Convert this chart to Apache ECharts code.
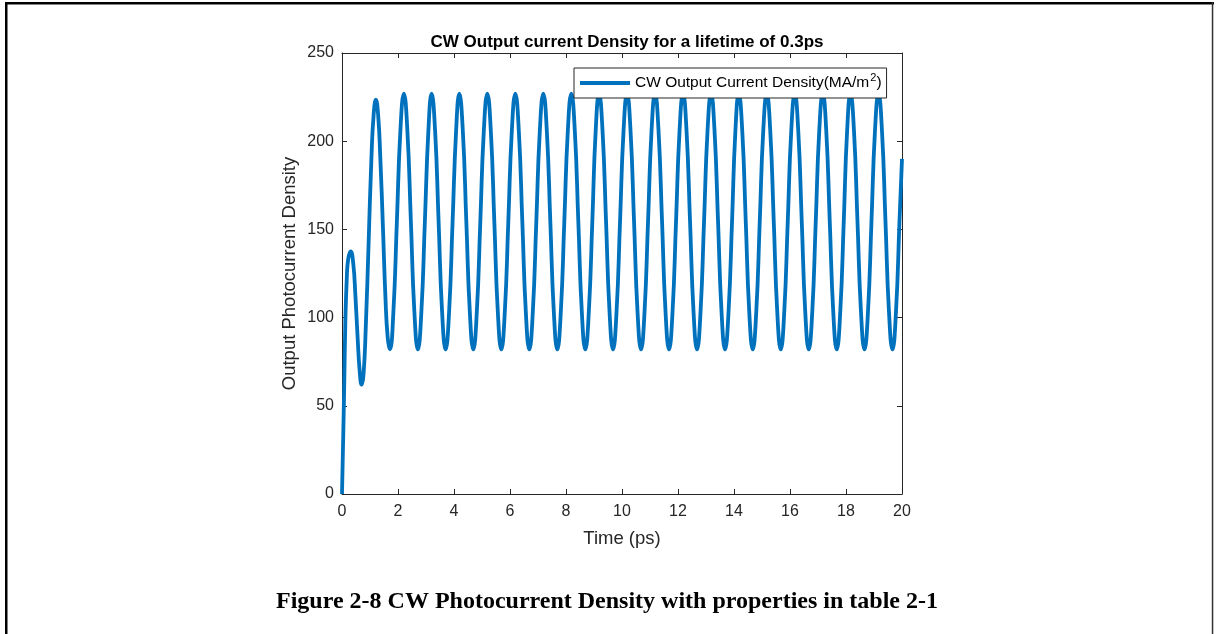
<!DOCTYPE html>
<html>
<head>
<meta charset="utf-8">
<title>CW Output current Density</title>
<script src="https://cdn.jsdelivr.net/npm/echarts@6/dist/echarts.min.js"></script>
<style>
  html, body { margin: 0; padding: 0; background: #ffffff; }
  #chart { width: 1219px; height: 634px; }
</style>
</head>
<body>
<div id="chart"></div>
<script>
// Time samples (ps): start-up transient, then one row per oscillation (peak to next peak)
const timePs = [
  0, 0.04, 0.08, 0.12, 0.17, 0.22, 0.31, 0.40, 0.48, 0.56, 0.63, 0.70, 0.77, 0.85, 0.95,
  1.05, 1.13, 1.21, 1.29, 1.37, 1.46, 1.55, 1.63, 1.71, 1.835, 1.96, 2.085,
  2.21, 2.335, 2.46, 2.585, 2.71, 2.835, 2.96, 3.085,
  3.20, 3.325, 3.45, 3.575, 3.70, 3.825, 3.95, 4.075,
  4.19, 4.315, 4.44, 4.565, 4.69, 4.815, 4.94, 5.065,
  5.19, 5.315, 5.44, 5.565, 5.69, 5.815, 5.94, 6.065,
  6.19, 6.315, 6.44, 6.565, 6.69, 6.815, 6.94, 7.065,
  7.19, 7.315, 7.44, 7.565, 7.69, 7.815, 7.94, 8.065,
  8.19, 8.315, 8.44, 8.565, 8.69, 8.815, 8.94, 9.06,
  9.18, 9.305, 9.43, 9.555, 9.68, 9.805, 9.93, 10.055,
  10.18, 10.305, 10.43, 10.555, 10.68, 10.805, 10.93, 11.055,
  11.18, 11.305, 11.43, 11.555, 11.68, 11.805, 11.93, 12.055,
  12.18, 12.305, 12.43, 12.555, 12.68, 12.805, 12.93, 13.055,
  13.18, 13.305, 13.43, 13.555, 13.68, 13.805, 13.93, 14.05,
  14.17, 14.295, 14.42, 14.545, 14.67, 14.795, 14.92, 15.045,
  15.17, 15.295, 15.42, 15.545, 15.67, 15.795, 15.92, 16.045,
  16.17, 16.295, 16.42, 16.545, 16.67, 16.795, 16.92, 17.045,
  17.17, 17.295, 17.42, 17.545, 17.67, 17.795, 17.92, 18.04,
  18.16, 18.285, 18.41, 18.535, 18.66, 18.785, 18.91, 19.035,
  19.16, 19.285, 19.41, 19.535, 19.66, 19.785, 19.91,
  20
];

// Output photocurrent density (MA/m^2) at each time sample
const density = [
  0, 30, 62, 98, 122, 133, 137.5, 131, 112, 88, 70, 62, 68, 95, 142,
  190, 215, 223.5, 215, 190, 152, 112, 89, 82, 103.2, 154.5, 205.8,
  227, 205.8, 154.5, 103.2, 82, 103.2, 154.5, 205.8,
  227, 205.8, 154.5, 103.2, 82, 103.2, 154.5, 205.8,
  227, 205.8, 154.5, 103.2, 82, 103.2, 154.5, 205.8,
  227, 205.8, 154.5, 103.2, 82, 103.2, 154.5, 205.8,
  227, 205.8, 154.5, 103.2, 82, 103.2, 154.5, 205.8,
  227, 205.8, 154.5, 103.2, 82, 103.2, 154.5, 205.8,
  227, 205.8, 154.5, 103.2, 82, 103.2, 154.5, 205.8,
  227, 205.8, 154.5, 103.2, 82, 103.2, 154.5, 205.8,
  227, 205.8, 154.5, 103.2, 82, 103.2, 154.5, 205.8,
  227, 205.8, 154.5, 103.2, 82, 103.2, 154.5, 205.8,
  227, 205.8, 154.5, 103.2, 82, 103.2, 154.5, 205.8,
  227, 205.8, 154.5, 103.2, 82, 103.2, 154.5, 205.8,
  227, 205.8, 154.5, 103.2, 82, 103.2, 154.5, 205.8,
  227, 205.8, 154.5, 103.2, 82, 103.2, 154.5, 205.8,
  227, 205.8, 154.5, 103.2, 82, 103.2, 154.5, 205.8,
  227, 205.8, 154.5, 103.2, 82, 103.2, 154.5, 205.8,
  227, 205.8, 154.5, 103.2, 82, 103.2, 154.5, 205.8,
  227, 205.8, 154.5, 103.2, 82, 103.2, 154.5,
  190
];

const xTicks = [0, 2, 4, 6, 8, 10, 12, 14, 16, 18, 20];
const yTicks = [0, 50, 100, 150, 200, 250];

const titleText = 'CW Output current Density for a lifetime of 0.3ps';
const xName = 'Time (ps)';
const yName = 'Output Photocurrent Density';
const seriesName = 'CW Output Current Density(MA/m2)';
const captionText = 'Figure 2-8 CW Photocurrent Density with properties in table 2-1';

const axisColor = '#262626';
const lineColor = '#0072BD';
const sans = '"Liberation Sans", Arial, Helvetica, sans-serif';

const points = timePs.map((t, i) => [t, density[i]]);

const chart = echarts.init(document.getElementById('chart'), null, { renderer: 'canvas' });

// Shared style for the four sides of the axes box (ticks point inward)
function boxAxis(extra) {
  return Object.assign({
    type: 'value',
    axisLine: { show: true, onZero: false, lineStyle: { color: axisColor, width: 1 } },
    axisTick: { show: true, inside: true, length: 5, lineStyle: { color: axisColor, width: 1 } },
    splitLine: { show: false }
  }, extra);
}

chart.setOption({
  animation: false,
  backgroundColor: '#ffffff',
  title: {
    text: titleText,
    left: 622,
    textAlign: 'center',
    top: 29,
    textStyle: { fontFamily: sans, fontSize: 17, fontWeight: 'bold', color: '#000000' }
  },
  grid: { left: 342, right: 317, top: 53, bottom: 140, containLabel: false },
  legend: {
    data: [seriesName],
    left: 574,
    top: 68,
    icon: 'rect',
    itemWidth: 50,
    itemHeight: 4,
    itemGap: 5,
    padding: [4, 5, 4, 6],
    backgroundColor: '#ffffff',
    borderColor: axisColor,
    borderWidth: 1,
    borderRadius: 0,
    formatter: () => '{t|CW Output Current Density(MA/m}{s|2}{t|)}',
    textStyle: {
      color: '#000000',
      rich: {
        t: { fontFamily: sans, fontSize: 15.5, color: '#000000', lineHeight: 21 },
        s: { fontFamily: sans, fontSize: 11, color: '#000000', padding: [0, 0, 11, 1], lineHeight: 21 }
      }
    }
  },
  xAxis: [
    boxAxis({
      min: xTicks[0], max: xTicks[xTicks.length - 1], interval: 2,
      position: 'bottom',
      name: xName, nameLocation: 'middle', nameGap: 35,
      nameTextStyle: { fontFamily: sans, fontSize: 18.5, color: axisColor },
      axisLabel: { show: true, margin: 10, fontFamily: sans, fontSize: 16, color: axisColor }
    }),
    boxAxis({
      min: xTicks[0], max: xTicks[xTicks.length - 1], interval: 2,
      position: 'top',
      axisLabel: { show: false }
    })
  ],
  yAxis: [
    boxAxis({
      min: yTicks[0], max: yTicks[yTicks.length - 1], interval: 50,
      position: 'left',
      name: yName, nameLocation: 'middle', nameGap: 43, nameRotate: 90,
      nameTextStyle: { fontFamily: sans, fontSize: 18.5, color: axisColor },
      axisLabel: { show: true, margin: 8, fontFamily: sans, fontSize: 16, color: axisColor }
    }),
    boxAxis({
      min: yTicks[0], max: yTicks[yTicks.length - 1], interval: 50,
      position: 'right',
      axisLabel: { show: false }
    })
  ],
  series: [{
    name: seriesName,
    type: 'line',
    xAxisIndex: 0,
    yAxisIndex: 0,
    data: points,
    smooth: 0.5,
    showSymbol: false,
    symbol: 'none',
    lineStyle: { color: lineColor, width: 3.8, join: 'round', cap: 'butt' },
    itemStyle: { color: lineColor },
    clip: true
  }],
  graphic: [
    // page frame
    { type: 'rect', shape: { x: 5, y: 2, width: 2.5, height: 640 }, style: { fill: '#000000' }, silent: true },
    { type: 'rect', shape: { x: 5, y: 2, width: 1209, height: 2.5 }, style: { fill: '#000000' }, silent: true },
    { type: 'rect', shape: { x: 1211.8, y: 2, width: 1.5, height: 640 }, style: { fill: '#333333' }, silent: true },
    // figure caption
    {
      type: 'text',
      x: 607,
      y: 602,
      style: {
        text: captionText,
        font: 'bold 24px "Liberation Serif", "Times New Roman", serif',
        fill: '#000000',
        align: 'center',
        verticalAlign: 'middle'
      },
      silent: true
    }
  ]
});
</script>
</body>
</html>
